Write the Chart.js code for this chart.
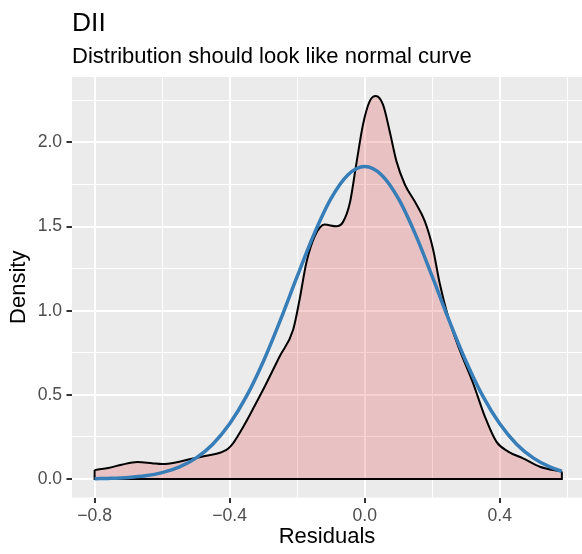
<!DOCTYPE html>
<html>
<head>
<meta charset="utf-8">
<script src="https://cdn.jsdelivr.net/npm/chart.js@4.4.1/dist/chart.umd.min.js"></script>
<style>
  html, body { margin: 0; padding: 0; background: #ffffff; }
  #wrap { width: 582px; height: 554px; position: relative; }
</style>
</head>
<body>
<div id="wrap"><canvas id="graphic"></canvas></div>
<script>
var chartTitle = 'DII';
var chartSubtitle = 'Distribution should look like normal curve';

// kernel density of the residuals
var densX = [-0.800, -0.756, -0.720, -0.673, -0.630, -0.599, -0.560, -0.519, -0.480, -0.439,
             -0.420, -0.405, -0.390, -0.370, -0.350, -0.330, -0.301, -0.252, -0.212, -0.193,
             -0.173, -0.148, -0.119, -0.084, -0.065, -0.044, -0.025, -0.005, 0.015, 0.033,
             0.054, 0.074, 0.094, 0.119, 0.148, 0.178, 0.202, 0.222, 0.247, 0.281,
             0.321, 0.356, 0.390, 0.425, 0.469, 0.519, 0.584];
var densY = [0.054, 0.067, 0.085, 0.101, 0.094, 0.089, 0.098, 0.117, 0.134, 0.150,
             0.163, 0.180, 0.212, 0.275, 0.345, 0.420, 0.530, 0.728, 0.887, 1.065,
             1.284, 1.442, 1.512, 1.502, 1.525, 1.640, 1.870, 2.107, 2.246, 2.276,
             2.226, 2.067, 1.889, 1.750, 1.650, 1.532, 1.370, 1.165, 0.966, 0.768,
             0.570, 0.371, 0.222, 0.163, 0.123, 0.073, 0.044];

// normal reference curve
var normX = [-0.80, -0.75, -0.70, -0.65, -0.60, -0.55, -0.50, -0.45, -0.40, -0.35,
             -0.30, -0.25, -0.20, -0.15, -0.10, -0.05, 0.00, 0.05, 0.10, 0.15,
             0.20, 0.25, 0.30, 0.35, 0.40, 0.45, 0.50, 0.55, 0.584];
var normY = [0.002, 0.004, 0.009, 0.019, 0.038, 0.070, 0.124, 0.207, 0.328, 0.492,
             0.700, 0.943, 1.204, 1.455, 1.666, 1.807, 1.857, 1.807, 1.666, 1.455,
             1.204, 0.943, 0.700, 0.492, 0.328, 0.207, 0.124, 0.070, 0.046];

var xMajorStep = 0.4;
var yMajorStep = 0.5;

function toPoints(xs, ys) {
    var pts = [];
    for (var i = 0; i < xs.length; i++) {
        pts.push({x: xs[i], y: ys[i]});
    }
    return pts;
}

function isMajor(v, step) {
    var r = v / step;
    return Math.abs(r - Math.round(r)) < 1e-6;
}

function fmt(v) {
    var s = (Math.abs(v) < 1e-9 ? 0 : v).toFixed(1);
    return s.replace('-', '\u2212');
}

// vertical ends and baseline of the density polygon
var last = densX.length - 1;
var edgePts = [
    {x: densX[0], y: densY[0]},
    {x: densX[0], y: 0},
    {x: densX[last], y: 0},
    {x: densX[last], y: densY[last]}
];

var fontFamily = '"Liberation Sans", Arial, Helvetica, sans-serif';

var panelBg = {
    id: 'panelBg',
    beforeDraw: function(chart) {
        var a = chart.chartArea;
        var c = chart.ctx;
        c.save();
        c.fillStyle = '#EBEBEB';
        c.fillRect(a.left, a.top, a.right - a.left, a.bottom - a.top);
        c.restore();
    }
};

var titles = {
    id: 'titles',
    afterDraw: function(chart) {
        var c = chart.ctx;
        var left = chart.chartArea.left;
        c.save();
        c.fillStyle = '#000000';
        c.textAlign = 'left';
        c.textBaseline = 'alphabetic';
        c.font = '26.4px ' + fontFamily;
        c.fillText(chartTitle, left, 31);
        c.font = '22px ' + fontFamily;
        c.fillText(chartSubtitle, left, 63);
        c.restore();
    }
};

var ctx = document.getElementById('graphic');

var chartGraph = new Chart(ctx, {
    type: 'line',
    data: {
        datasets: [{
            label: 'normal',
            data: toPoints(normX, normY),
            borderColor: '#377EB8',
            borderWidth: 3.5,
            pointRadius: 0,
            fill: false,
            cubicInterpolationMode: 'monotone',
            order: 0
        }, {
            label: 'edges',
            data: edgePts,
            borderColor: '#000000',
            borderWidth: 2,
            pointRadius: 0,
            fill: false,
            tension: 0,
            order: 1
        }, {
            label: 'density',
            data: toPoints(densX, densY),
            borderColor: '#000000',
            borderWidth: 2,
            backgroundColor: 'rgba(220, 30, 30, 0.2)',
            pointRadius: 0,
            fill: 'origin',
            cubicInterpolationMode: 'monotone',
            order: 2
        }]
    },
    options: {
        responsive: true,
        maintainAspectRatio: false,
        animation: false,
        layout: { padding: { top: 77, left: 0, right: 0, bottom: 0 } },
        plugins: {
            legend: { display: false },
            tooltip: { enabled: false },
            title: { display: false }
        },
        scales: {
            x: {
                type: 'linear',
                min: -0.867,
                max: 0.6437,
                border: { display: false },
                grid: {
                    color: '#FFFFFF',
                    lineWidth: function(c) { return isMajor(c.tick.value, xMajorStep) ? 2 : 1; },
                    tickColor: function(c) { return isMajor(c.tick.value, xMajorStep) ? '#333333' : 'rgba(0,0,0,0)'; },
                    tickWidth: 2,
                    tickLength: 5.5
                },
                ticks: {
                    stepSize: 0.2,
                    includeBounds: false,
                    maxRotation: 0,
                    autoSkip: false,
                    padding: 3,
                    color: '#4D4D4D',
                    font: { family: fontFamily, size: 17.6 },
                    callback: function(v) { return isMajor(v, xMajorStep) ? fmt(v) : ''; }
                },
                title: {
                    display: true,
                    text: 'Residuals',
                    color: '#000000',
                    font: { family: fontFamily, size: 22 },
                    padding: { top: 0, bottom: 4 }
                },
                afterFit: function(scale) { scale.height = 56.5; }
            },
            y: {
                type: 'linear',
                min: -0.110,
                max: 2.389,
                border: { display: false },
                grid: {
                    color: '#FFFFFF',
                    lineWidth: function(c) { return isMajor(c.tick.value, yMajorStep) ? 2 : 1; },
                    tickColor: function(c) { return isMajor(c.tick.value, yMajorStep) ? '#333333' : 'rgba(0,0,0,0)'; },
                    tickWidth: 2,
                    tickLength: 5.5
                },
                ticks: {
                    stepSize: 0.25,
                    includeBounds: false,
                    autoSkip: false,
                    padding: 4.4,
                    color: '#4D4D4D',
                    font: { family: fontFamily, size: 17.6 },
                    callback: function(v) { return isMajor(v, yMajorStep) ? fmt(v) : ''; }
                },
                title: {
                    display: true,
                    text: 'Density',
                    color: '#000000',
                    font: { family: fontFamily, size: 22 },
                    padding: { top: 6, bottom: 0 }
                },
                afterFit: function(scale) { scale.width = 72; }
            }
        }
    },
    plugins: [panelBg, titles]
});
</script>
</body>
</html>
